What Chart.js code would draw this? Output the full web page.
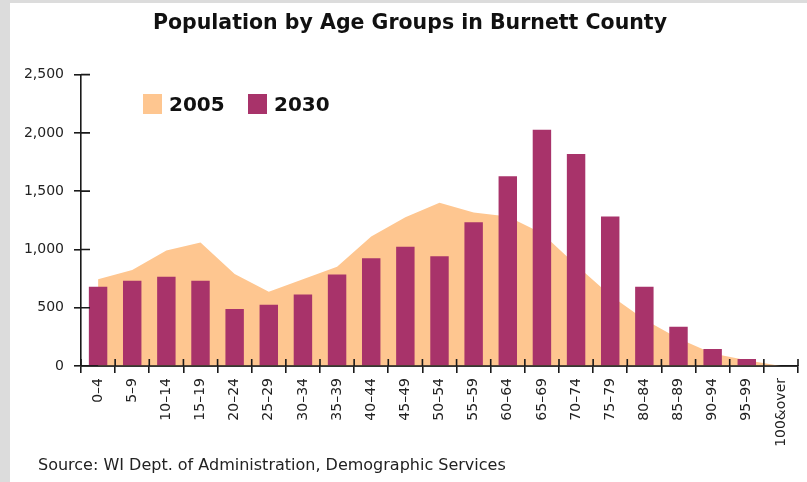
<!DOCTYPE html>
<html>
<head>
<meta charset="utf-8">
<script src="https://cdn.jsdelivr.net/npm/chart.js@4.4.1/dist/chart.umd.min.js"></script>
<style>
  body { margin: 0; background: #dcdcdc; }
  #panel { position: absolute; left: 10px; top: 3px; width: 797px; height: 479px; background: #fff; }
  #legend { position: absolute; left: 133px; top: 91px; font: bold 20px 'DejaVu Sans', sans-serif; color: #111; }
  #legend span.item { position: absolute; white-space: nowrap; line-height: 20px; }
  #legend span.box { display: inline-block; width: 19px; height: 20px; vertical-align: top; margin-right: 7px; }
  #source { position: absolute; left: 28px; top: 452px; font: 16px 'DejaVu Sans', sans-serif; color: #222; white-space: nowrap; }
</style>
</head>
<body>
<div id="panel">
  <canvas id="ageChart" width="797" height="479"></canvas>
  <div id="legend"></div>
  <div id="source">Source: WI Dept. of Administration, Demographic Services</div>
</div>
<script>
// age groups on the x axis
const ageGroups = ['0–4', '5–9', '10–14', '15–19', '20–24', '25–29', '30–34', '35–39', '40–44', '45–49',
  '50–54', '55–59', '60–64', '65–69', '70–74', '75–79', '80–84', '85–89', '90–94', '95–99', '100&over'];

// population
const pop2005 = [744, 824, 990, 1059, 789, 637, 744, 852, 1110, 1277,
  1400, 1317, 1282, 1139, 866, 608, 399, 236, 107, 49, 0];
const pop2030 = [680, 731, 766, 731, 490, 525, 614, 786, 924, 1024,
  941, 1234, 1627, 2026, 1819, 1282, 680, 336, 146, 60, 0];

const seriesNames = ['2005', '2030'];
const seriesColors = ['#fec690', '#a8336a'];
const yTicks = [0, 500, 1000, 1500, 2000, 2500];

// ticks that cross the axis lines (Chart.js only draws the outer half), plus the x axis line on top of the bars
const crossTicks = {
  id: 'crossTicks',
  afterDraw(chart) {
    const { ctx, chartArea, scales: { x, y } } = chart;
    ctx.save();
    ctx.strokeStyle = '#1a1a1a';
    ctx.lineWidth = 1.6;
    ctx.beginPath();
    y.ticks.forEach((t, i) => {
      const py = y.getPixelForTick(i);
      ctx.moveTo(chartArea.left, py);
      ctx.lineTo(chartArea.left + 9, py);
    });
    const n = x.ticks.length;
    const half = (x.getPixelForTick(1) - x.getPixelForTick(0)) / 2;
    for (let i = 0; i <= n; i++) {
      const px = i < n ? x.getPixelForTick(i) - half : x.getPixelForTick(n - 1) + half;
      ctx.moveTo(px, chartArea.bottom);
      ctx.lineTo(px, chartArea.bottom - 7);
    }
    ctx.moveTo(chartArea.left, chartArea.bottom);
    ctx.lineTo(chartArea.right, chartArea.bottom);
    ctx.stroke();
    ctx.restore();
  }
};

// legend as html on top of the chart
const legendEl = document.getElementById('legend');
const legendX = [0, 105];
seriesNames.forEach((name, i) => {
  const item = document.createElement('span');
  item.className = 'item';
  item.style.left = legendX[i] + 'px';
  item.innerHTML = '<span class="box" style="background:' + seriesColors[i] + '"></span>' + name;
  legendEl.appendChild(item);
});

const ctx = document.getElementById('ageChart').getContext('2d');
new Chart(ctx, {
  type: 'bar',
  data: {
    labels: ageGroups,
    datasets: [
      {
        type: 'line',
        label: seriesNames[0],
        data: pop2005,
        backgroundColor: seriesColors[0],
        borderWidth: 0,
        pointRadius: 0,
        fill: 'origin',
        tension: 0,
        order: 2
      },
      {
        label: seriesNames[1],
        data: pop2030,
        backgroundColor: seriesColors[1],
        barPercentage: 0.54,
        categoryPercentage: 1,
        order: 1
      }
    ]
  },
  options: {
    responsive: false,
    animation: false,
    layout: { padding: { left: 12, right: 9, top: 0, bottom: 0 } },
    plugins: {
      legend: { display: false },
      tooltip: { enabled: false },
      title: {
        display: true,
        text: 'Population by Age Groups in Burnett County',
        color: '#111',
        font: { family: 'DejaVu Sans', size: 20.5, weight: 'bold' },
        padding: { top: 8, bottom: 39 }
      }
    },
    scales: {
      x: {
        offset: true,
        grid: { drawOnChartArea: false, tickLength: 7, color: '#1a1a1a', lineWidth: 1.6, offset: true },
        border: { color: '#1a1a1a', width: 1.6 },
        ticks: {
          color: '#222',
          font: { family: 'DejaVu Sans', size: 14 },
          minRotation: 90,
          maxRotation: 90,
          autoSkip: false,
          padding: 5
        },
        afterFit(scale) { scale.height = 116; }
      },
      y: {
        min: 0,
        max: 2500,
        afterBuildTicks(scale) { scale.ticks = yTicks.map(v => ({ value: v })); },
        grid: { drawOnChartArea: false, tickLength: 7, color: '#1a1a1a', lineWidth: 1.6 },
        border: { color: '#1a1a1a', width: 1.6 },
        ticks: {
          color: '#222',
          font: { family: 'DejaVu Sans', size: 14 },
          padding: 10,
          callback: v => v.toLocaleString('en-US')
        },
        afterFit(scale) { scale.width = 59; }
      }
    }
  },
  plugins: [crossTicks]
});
</script>
</body>
</html>
